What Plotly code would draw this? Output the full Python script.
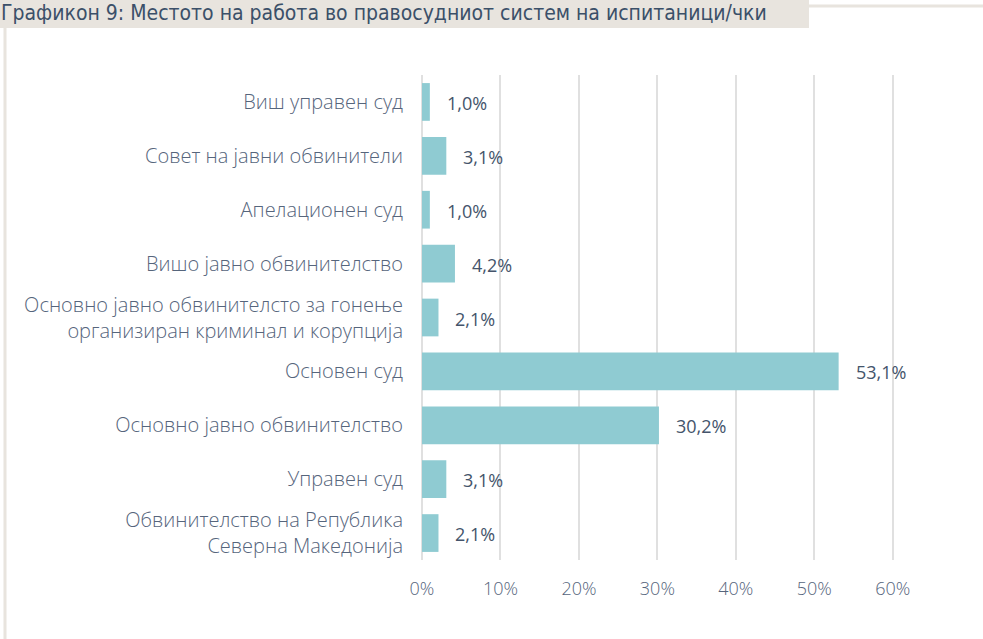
import plotly.graph_objects as go

categories = [
    "Виш управен суд",
    "Совет на јавни обвинители",
    "Апелационен суд",
    "Вишо јавно обвинителство",
    "Основно јавно обвинителсто за гонење<br>организиран криминал и корупција",
    "Основен суд",
    "Основно јавно обвинителство",
    "Управен суд",
    "Обвинителство на Република<br>Северна Македонија",
]
values = [1.0, 3.1, 1.0, 4.2, 2.1, 53.1, 30.2, 3.1, 2.1]
value_labels = ["1,0%", "3,1%", "1,0%", "4,2%", "2,1%", "53,1%", "30,2%", "3,1%", "2,1%"]
tick_vals = [0, 10, 20, 30, 40, 50, 60]
tick_text = ["0%", "10%", "20%", "30%", "40%", "50%", "60%"]
title_text = "Графикон 9: Местото на работа во правосудниот систем на испитаници/чки"

W, H = 983, 639
FONT = "Open Sans"
TITLE_FONT = "DejaVu Sans Condensed"
LABEL_COLOR = "#56657c"
VALUE_COLOR = "#44546b"
BEIGE = "#e8e4de"

fig = go.Figure()
fig.add_trace(go.Bar(
    x=values, y=categories, orientation="h",
    marker=dict(color="#8fcbd2", line=dict(width=0)),
    hoverinfo="skip",
))

for v, lab, c in zip(values, value_labels, categories):
    fig.add_annotation(
        x=v, y=c, xref="x", yref="y", text=lab, showarrow=False,
        xanchor="left", xshift=15, yshift=-1,
        font=dict(family=FONT, size=18, color=VALUE_COLOR, weight=400),
    )

x0_px, x_end_px = 422, 932
y_top_px, y_bot_px = 75, 560

# title banner, top rule and left rule
fig.add_shape(type="rect", xref="paper", yref="paper",
              x0=0, x1=809 / W, y0=1 - 28 / H, y1=1,
              fillcolor=BEIGE, line=dict(width=0), layer="below")
fig.add_shape(type="line", xref="paper", yref="paper",
              x0=809 / W, x1=1, y0=1 - 6 / H, y1=1 - 6 / H,
              line=dict(color=BEIGE, width=3))
fig.add_shape(type="line", xref="paper", yref="paper",
              x0=5 / W, x1=5 / W, y0=0, y1=1 - 28 / H,
              line=dict(color=BEIGE, width=3))
fig.add_annotation(text=title_text, xref="paper", yref="paper",
                   x=0, y=1, xanchor="left", yanchor="top",
                   showarrow=False, bgcolor="rgba(0,0,0,0)", borderpad=0,
                   font=dict(family=TITLE_FONT, size=21, color="#3b5069"))

fig.update_layout(
    width=W, height=H,
    margin=dict(l=0, r=0, t=0, b=0, autoexpand=False),
    paper_bgcolor="white", plot_bgcolor="white",
    showlegend=False,
    bargap=0.3,
    xaxis=dict(
        domain=[x0_px / W, x_end_px / W],
        range=[0, 65],
        automargin=False,
        tickvals=tick_vals, ticktext=tick_text,
        showgrid=True, gridcolor="#e0e0e0", gridwidth=2,
        zeroline=True, zerolinecolor="#e0e0e0", zerolinewidth=2,
        ticks="", ticklabelstandoff=16,
        tickfont=dict(family=FONT, size=18, color=LABEL_COLOR, weight=300),
        fixedrange=True,
    ),
    yaxis=dict(
        domain=[1 - y_bot_px / H, 1 - y_top_px / H],
        autorange="reversed",
        automargin=False,
        ticks="", ticklabelstandoff=18,
        tickfont=dict(family=FONT, size=20, color=LABEL_COLOR, weight=300),
        showgrid=False, zeroline=False,
        fixedrange=True,
    ),
)

fig.write_html(
    "out.html",
    config={"displayModeBar": False},
    post_script="document.body.style.margin='0';document.body.style.overflow='hidden';",
)
